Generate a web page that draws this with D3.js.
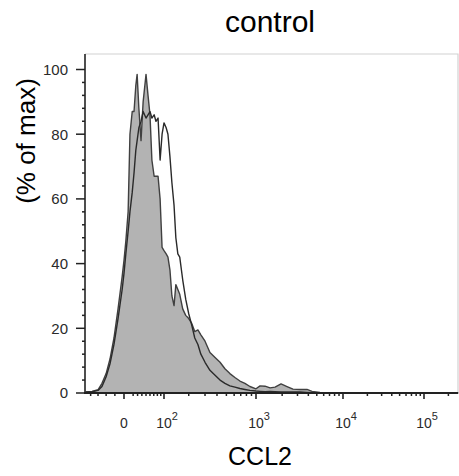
<!DOCTYPE html>
<html>
<head>
<meta charset="utf-8">
<script src="https://cdn.jsdelivr.net/npm/d3@7/dist/d3.min.js"></script>
<style>
  body { margin: 0; background: #fff; }
  svg text { font-family: "Liberation Sans", Arial, sans-serif; }
</style>
</head>
<body>
<div id="histogram"></div>
<script>
// CCL2 intensity (bin positions) and % of max for the two overlaid histograms
const intensity = [-94, -76, -60, -50, -40, -31, -22, -13, -4, 0,
  4, 9, 13, 18, 22, 26, 29, 33, 38, 43,
  50, 55, 60, 65, 71, 76, 82, 88, 94, 100,
  107, 113, 120, 127, 135, 142, 150, 158, 171, 185,
  200, 216, 233, 252, 271, 300, 338, 382, 430, 483,
  543, 611, 687, 772, 868, 1000, 1114, 1272, 1452, 1657,
  1942, 2275, 2665, 3210, 3860, 4410, 5440, 10000, 28600, 100000,
  262144];

const filledPct = [0.3, 0.5, 1, 3, 6, 10.5, 17, 26, 36, 41,
  47, 56, 80, 87, 87, 95, 98.5, 88, 78, 90,
  98.5, 92, 86, 72, 67, 67, 67, 60, 45, 44,
  43, 42, 38, 30, 27, 33.5, 32, 30.5, 26, 24,
  23, 21.5, 19, 19.5, 18, 16, 12.5, 11, 9.5, 7.5,
  6, 4.8, 3.7, 3, 2, 1.3, 2.2, 2.1, 1.6, 1.8,
  2.8, 2, 1.2, 1.1, 1.1, 0.5, 0.2, 0, 0, 0,
  0];

const openPct = [0.3, 0.4, 0.8, 2, 5, 9, 15, 23, 32, 37,
  43, 50, 56, 62, 68, 75, 78, 82, 84, 87,
  85, 86, 87, 85, 86, 84, 85, 72, 80, 83.5,
  82, 80, 73, 65, 58, 48, 43, 42, 35, 29,
  24.5, 21, 17, 15, 12, 9.5, 7, 5.5, 4, 3,
  2.2, 1.8, 1.4, 1.1, 0.8, 0.6, 0.5, 0.4, 0.5, 0.4,
  0.3, 0.3, 0.3, 0.3, 0.2, 0.1, 0, 0, 0, 0,
  0];

const yTicks = [0, 20, 40, 60, 80, 100];
const xTicks = [0, 100, 1000, 10000, 100000];

const width = 459, height = 476,
  plotLeft = 85, plotRight = 458, plotTop = 54, plotBottom = 393;

// biexponential-like transform, then piecewise linear to pixels
const T = v => Math.asinh(v / 94) / Math.LN10;
const xT = d3.scaleLinear().domain(xTicks.map(T)).range([124, 164, 256, 343, 424]);
const x = v => xT(T(v));
const y = d3.scaleLinear().domain([0, 100]).range([plotBottom, 69.5]);

const svg = d3.select("#histogram")
  .append("svg")
  .attr("width", width)
  .attr("height", height);

// light frame top / right
svg.append("path")
  .attr("d", `M${plotLeft},${plotTop}H${plotRight}V${plotBottom}`)
  .attr("fill", "none")
  .attr("stroke", "#d2d2d2")
  .attr("stroke-width", 1.2);

const area = d3.area()
  .x((d, i) => x(intensity[i]))
  .y0(plotBottom)
  .y1(d => y(d));

const line = d3.line()
  .x((d, i) => x(intensity[i]))
  .y(d => y(d));

svg.append("path")
  .datum(filledPct)
  .attr("d", area)
  .attr("fill", "#b3b3b3")
  .attr("stroke", "#404040")
  .attr("stroke-width", 1.4)
  .attr("stroke-linejoin", "round");

svg.append("path")
  .datum(openPct)
  .attr("d", line)
  .attr("fill", "none")
  .attr("stroke", "#2a2a2a")
  .attr("stroke-width", 1.4)
  .attr("stroke-linejoin", "round");

// y axis
const yAxis = svg.append("g").attr("stroke", "#222");
yAxis.append("line")
  .attr("x1", plotLeft).attr("x2", plotLeft)
  .attr("y1", plotTop).attr("y2", plotBottom + 1)
  .attr("stroke-width", 1.6);
yAxis.selectAll("line.major")
  .data(yTicks)
  .join("line")
  .attr("class", "major")
  .attr("x1", plotLeft - 9).attr("x2", plotLeft)
  .attr("y1", d => y(d)).attr("y2", d => y(d))
  .attr("stroke-width", 1.5);
yAxis.selectAll("line.minor")
  .data(d3.range(0, 100, 4).filter(d => d % 20))
  .join("line")
  .attr("class", "minor")
  .attr("x1", plotLeft - 3).attr("x2", plotLeft)
  .attr("y1", d => y(d)).attr("y2", d => y(d))
  .attr("stroke-width", 1.5);

svg.append("g")
  .attr("font-size", 15)
  .attr("fill", "#2a2a2a")
  .attr("text-anchor", "end")
  .selectAll("text")
  .data(yTicks)
  .join("text")
  .attr("x", plotLeft - 17)
  .attr("y", d => y(d))
  .attr("dy", "0.36em")
  .text(d => d);

// x axis
const xMinor = [-80, -60, -40, -20, 20, 30, 40, 50, 60, 70, 80, 90]
  .concat(...[100, 1000, 10000].map(b => d3.range(2, 10).map(k => k * b)), [200000]);

const xAxis = svg.append("g").attr("stroke", "#222");
xAxis.append("line")
  .attr("x1", plotLeft - 1).attr("x2", plotRight)
  .attr("y1", plotBottom).attr("y2", plotBottom)
  .attr("stroke-width", 1.8);
xAxis.selectAll("line.major")
  .data(xTicks)
  .join("line")
  .attr("class", "major")
  .attr("x1", d => x(d)).attr("x2", d => x(d))
  .attr("y1", plotBottom).attr("y2", plotBottom + 6)
  .attr("stroke-width", 1.6);
xAxis.selectAll("line.minor")
  .data(xMinor)
  .join("line")
  .attr("class", "minor")
  .attr("x1", d => x(d)).attr("x2", d => x(d))
  .attr("y1", plotBottom).attr("y2", plotBottom + 3)
  .attr("stroke-width", 1.5);

const xLabels = svg.append("g")
  .attr("font-size", 14)
  .attr("fill", "#2a2a2a")
  .attr("text-anchor", "middle")
  .selectAll("text")
  .data(xTicks)
  .join("text")
  .attr("x", d => x(d) + (d ? 3 : 0))
  .attr("y", 428);
xLabels.append("tspan").text(d => d ? "10" : "0");
xLabels.filter(d => d).append("tspan")
  .attr("dy", -8)
  .attr("font-size", 11)
  .text(d => Math.round(Math.log10(d)));

// titles
svg.append("text")
  .attr("x", 270)
  .attr("y", 32)
  .attr("text-anchor", "middle")
  .attr("font-size", 30)
  .text("control");

svg.append("text")
  .attr("x", 260)
  .attr("y", 465)
  .attr("text-anchor", "middle")
  .attr("font-size", 25)
  .text("CCL2");

svg.append("text")
  .attr("transform", "translate(35,141) rotate(-90)")
  .attr("text-anchor", "middle")
  .attr("font-size", 26)
  .text("(% of max)");
</script>
</body>
</html>
